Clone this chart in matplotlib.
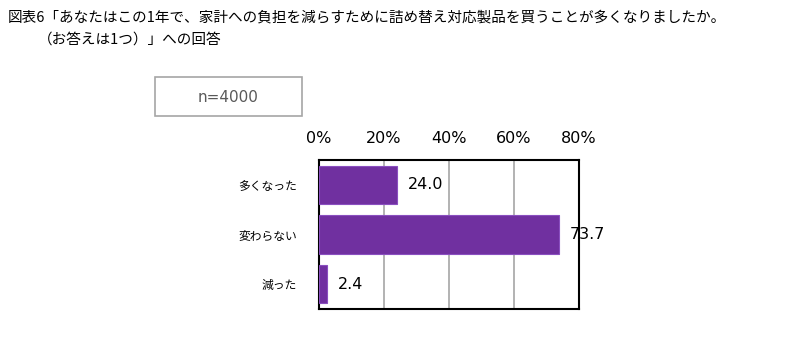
import numpy as np
import matplotlib.pyplot as plt
from matplotlib.patches import Rectangle

plt.rcParams['font.family'] = ['Noto Sans CJK JP', 'DejaVu Sans']

categories = ['多くなった', '変わらない', '減った']
values = [24.0, 73.7, 2.4]
ticks = [0, 20, 40, 60, 80]
title1 = '図表6「あなたはこの1年で、家計への負担を減らすために詰め替え対応製品を買うことが多くなりましたか。'
title2 = '（お答えは1つ）」への回答'
n_text = 'n=4000'

W, H = 808, 352
fig = plt.figure(figsize=(W / 100, H / 100), dpi=100)
ax = fig.add_axes([319 / W, 1 - 309 / H, 260 / W, 149 / H])

y = np.arange(len(categories))
ax.barh(y, values, height=0.77, color='#7030A0', edgecolor='#8a4fc0', linewidth=0.8, zorder=3)
for yi, v in zip(y, values):
    ax.annotate('{:.1f}'.format(v), (v, yi), xytext=(8, 0), textcoords='offset points',
                va='center', ha='left', fontsize=11.5, family='DejaVu Sans')

ax.set_xlim(0, 80)
ax.set_ylim(2.5, -0.5)
ax.set_xticks(ticks)
ax.set_xticklabels(['{}%'.format(t) for t in ticks], family='DejaVu Sans', fontsize=11.5)
ax.xaxis.tick_top()
ax.tick_params(axis='x', length=0, pad=10)
ax.set_yticks(y)
ax.set_yticklabels(categories, fontsize=8.5)
ax.tick_params(axis='y', length=0, pad=16)
ax.grid(axis='x', color='#a6a6a6', linewidth=1.2, zorder=0)
for s in ax.spines.values():
    s.set_linewidth(1.5)
    s.set_color('black')

fig.text(8 / W, 1 - 18 / H, title1, fontsize=10.5, va='center', ha='left')
fig.text(38 / W, 1 - 40 / H, title2, fontsize=10.5, va='center', ha='left')

fig.patches.append(Rectangle((155 / W, 1 - 116 / H), 147 / W, 39 / H, transform=fig.transFigure,
                             facecolor='white', edgecolor='#a6a6a6', linewidth=1.2))
fig.text(228 / W, 1 - 97 / H, n_text, fontsize=11, color='#595959', va='center', ha='center',
         family='DejaVu Sans')

fig.savefig('out.png', dpi=100)
